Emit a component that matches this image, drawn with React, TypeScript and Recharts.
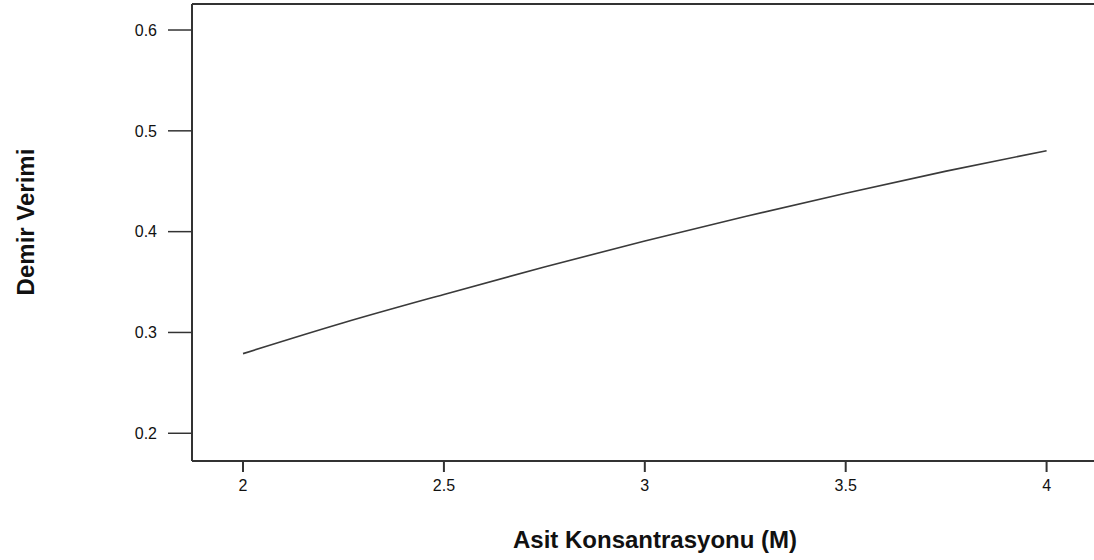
import React from 'react';
import { LineChart, Line, XAxis, YAxis, ReferenceLine, Label } from 'recharts';

const concentrations = [2, 2.25, 2.5, 2.75, 3, 3.25, 3.5, 3.75, 4];
const ironYield = [0.279, 0.3096, 0.3377, 0.365, 0.3907, 0.415, 0.438, 0.46, 0.4803];
const xTicks = [2, 2.5, 3, 3.5, 4];
const yTicks = [0.2, 0.3, 0.4, 0.5, 0.6];
const xDomain = [1.873, 4.118];
const yDomain = [0.1725, 0.6258];
const xTitle = 'Asit Konsantrasyonu (M)';
const yTitle = 'Demir Verimi';

const data = concentrations.map((c, i) => ({ c, y: ironYield[i] }));

const FONT = 'Liberation Sans, Arial, sans-serif';
const AXIS = '#333';

export default function App() {
  return (
    <div style={{ position: 'absolute', left: 0, top: 0, background: '#fff' }}>
      <LineChart width={1094} height={560} data={data} margin={{ top: 4, right: 0, bottom: 0, left: 0 }}>
        <XAxis
          dataKey="c"
          type="number"
          domain={xDomain}
          ticks={xTicks}
          allowDataOverflow
          height={99}
          tickSize={11}
          tickMargin={8}
          tickFormatter={(v: number) => String(v)}
          axisLine={{ stroke: AXIS, strokeWidth: 2 }}
          tickLine={{ stroke: AXIS, strokeWidth: 2 }}
          tick={{ fill: '#111', fontSize: 16, fontFamily: FONT }}
        >
          <Label
            content={() => (
              <text x={655} y={548} textAnchor="middle" fontFamily={FONT} fontWeight="bold" fontSize={24} fill="#111">
                {xTitle}
              </text>
            )}
          />
        </XAxis>
        <YAxis
          type="number"
          domain={yDomain}
          ticks={yTicks}
          allowDataOverflow
          width={192}
          tickSize={24}
          tickMargin={11}
          tickFormatter={(v: number) => String(v)}
          axisLine={{ stroke: AXIS, strokeWidth: 2 }}
          tickLine={{ stroke: AXIS, strokeWidth: 1.5 }}
          tick={{ fill: '#111', fontSize: 16, fontFamily: FONT }}
        >
          <Label
            content={() => (
              <text
                x={25}
                y={222}
                transform="rotate(-90 25 222)"
                textAnchor="middle"
                dominantBaseline="central"
                fontFamily={FONT}
                fontWeight="bold"
                fontSize={24}
                fill="#111"
              >
                {yTitle}
              </text>
            )}
          />
        </YAxis>
        <ReferenceLine y={yDomain[1]} stroke={AXIS} strokeWidth={2} ifOverflow="visible" />
        <Line
          type="monotone"
          dataKey="y"
          stroke="#3a3a3a"
          strokeWidth={1.6}
          dot={false}
          activeDot={false}
          isAnimationActive={false}
        />
      </LineChart>
    </div>
  );
}
